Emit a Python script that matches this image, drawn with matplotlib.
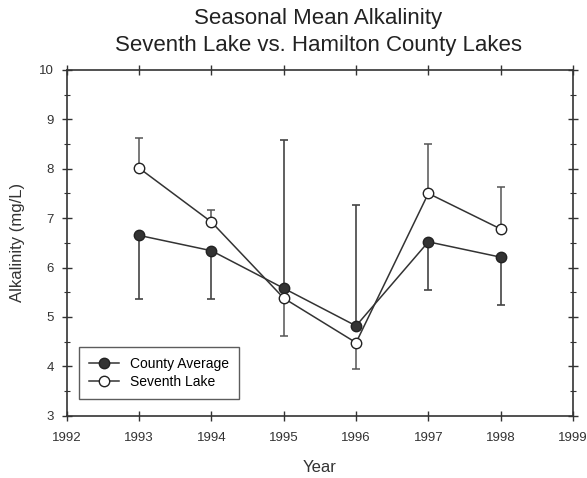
# Seasonal mean alkalinity: Seventh Lake vs. Hamilton County lakes
import matplotlib
matplotlib.use("Agg")
import matplotlib.pyplot as plt
from matplotlib.ticker import MultipleLocator

plt.rcParams['font.family'] = ['Liberation Sans', 'DejaVu Sans']

years = [1993, 1994, 1995, 1996, 1997, 1998]

county_avg = [6.65, 6.34, 5.58, 4.82, 6.52, 6.21]
county_err_low = [1.29, 0.98, 0.0, 0.0, 0.97, 0.97]
county_err_high = [0.0, 0.0, 3.0, 2.45, 0.0, 0.0]

seventh_lake = [8.01, 6.92, 5.38, 4.48, 7.50, 6.78]
seventh_err_low = [0.0, 0.0, 0.76, 0.54, 0.0, 0.0]
seventh_err_high = [0.62, 0.25, 0.0, 0.0, 1.0, 0.85]

fig = plt.figure(figsize=(5.87, 4.78), dpi=100)
ax = fig.add_axes([0.114, 0.130, 0.862, 0.724])

# error bars (one-sided)
ax.errorbar(years, county_avg, yerr=[county_err_low, county_err_high],
            fmt='none', ecolor='#444444', elinewidth=1.2, capsize=3, capthick=1.2, zorder=1)
ax.errorbar(years, seventh_lake, yerr=[seventh_err_low, seventh_err_high],
            fmt='none', ecolor='#555555', elinewidth=1.1, capsize=3, capthick=1.1, zorder=1)

ax.plot(years, county_avg, color='#333333', lw=1.1, marker='o', ms=7.5,
        mfc='#333333', mec='#222222', label='County Average', zorder=3)
ax.plot(years, seventh_lake, color='#333333', lw=1.1, marker='o', ms=7.5,
        mfc='white', mec='#222222', label='Seventh Lake', zorder=3)

ax.set_xlim(1992, 1999)
ax.set_ylim(3, 10)
ax.xaxis.set_major_locator(MultipleLocator(1))
ax.yaxis.set_major_locator(MultipleLocator(1))
ax.yaxis.set_minor_locator(MultipleLocator(0.5))
ax.tick_params(which='both', direction='inout', top=True, right=True,
               labelsize=9.5, colors='#333333')
ax.tick_params(which='major', length=7, width=1)
ax.tick_params(which='minor', length=4, width=0.8)
ax.tick_params(axis='x', pad=8)
ax.tick_params(axis='y', pad=6)
for s in ax.spines.values():
    s.set_color('#333333')
    s.set_linewidth(1.2)

ax.set_xlabel('Year', fontsize=12, color='#333333', labelpad=12)
ax.set_ylabel('Alkalinity (mg/L)', fontsize=12, color='#333333', labelpad=10)
fig.text(0.542, 0.962, 'Seasonal Mean Alkalinity', ha='center', va='center',
         fontsize=16, color='#222222')
fig.text(0.542, 0.904, 'Seventh Lake vs. Hamilton County Lakes', ha='center',
         va='center', fontsize=16, color='#222222')

leg = ax.legend(loc='lower left', bbox_to_anchor=(0.01, 0.03), fontsize=10,
                frameon=True, fancybox=False, edgecolor='#333333',
                handlelength=2.2, borderpad=0.7, labelspacing=0.3)
leg.get_frame().set_linewidth(1.0)

fig.savefig('out.png', dpi=100)
